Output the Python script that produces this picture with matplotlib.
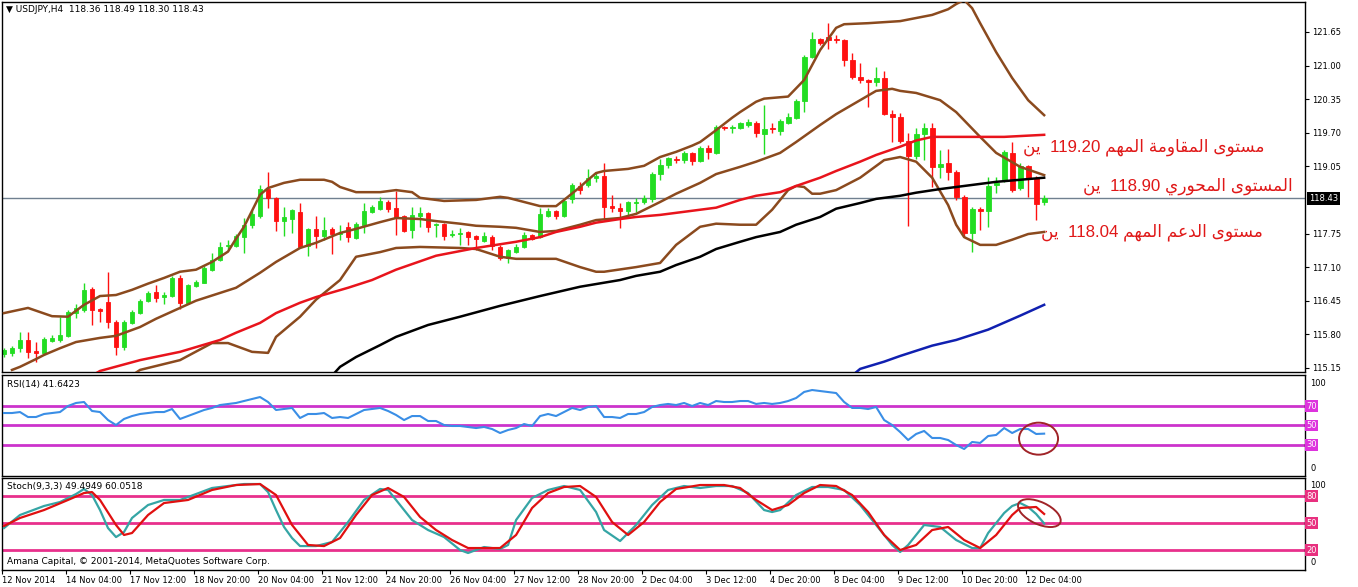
import numpy as np
import matplotlib
matplotlib.use("Agg")
import matplotlib.pyplot as plt
import matplotlib.transforms as mtransforms
from matplotlib.patches import Ellipse

# datos de velas H4 (indice 0 = 12 Nov 20:00)
opens = [115.42, 115.44, 115.54, 115.69, 115.48, 115.44, 115.67, 115.69, 115.77, 116.21,
         116.27, 116.68, 116.29, 116.43, 116.04, 115.56, 116.02, 116.21, 116.45, 116.62,
         116.52, 116.54, 116.89, 116.41, 116.74, 116.79, 117.05, 117.24, 117.51, 117.51,
         117.68, 117.92, 118.09, 118.61, 118.44, 117.99, 118.03, 118.17, 117.51, 117.84,
         117.70, 117.84, 117.74, 117.88, 117.66, 117.92, 118.17, 118.23, 118.36, 118.25,
         118.09, 117.82, 118.09, 118.15, 117.92, 117.94, 117.72, 117.74, 117.78, 117.70,
         117.61, 117.68, 117.49, 117.28, 117.39, 117.49, 117.72, 117.68, 118.09, 118.19,
         118.09, 118.42, 118.67, 118.69, 118.83, 118.86, 118.28, 118.25, 118.19, 118.34,
         118.36, 118.42, 118.90, 119.08, 119.19, 119.17, 119.31, 119.15, 119.41, 119.31,
         119.81, 119.79, 119.79, 119.85, 119.89, 119.68, 119.79, 119.73, 119.89, 119.99,
         120.32, 121.17, 121.52, 121.55, 121.52, 121.50, 121.11, 120.78, 120.72, 120.68,
         120.76, 120.06, 120.01, 119.54, 119.25, 119.68, 119.79, 119.04, 119.12, 118.94,
         118.46, 117.76, 118.23, 118.19, 118.69, 118.79, 119.31, 118.63, 119.06, 118.83,
         118.36]
highs = [115.54, 115.58, 115.85, 115.85, 115.65, 115.75, 115.79, 116.14, 116.27, 116.39,
         116.79, 116.72, 116.31, 117.01, 116.08, 116.08, 116.27, 116.49, 116.64, 116.76,
         116.62, 116.93, 116.95, 116.78, 116.85, 117.12, 117.38, 117.59, 117.63, 117.74,
         118.05, 118.21, 118.69, 118.94, 118.46, 118.26, 118.22, 118.34, 117.86, 118.09,
         118.07, 117.88, 117.92, 117.97, 117.97, 118.34, 118.30, 118.46, 118.40, 118.57,
         118.11, 118.26, 118.26, 118.17, 117.96, 117.96, 117.82, 117.86, 117.80, 117.72,
         117.78, 117.72, 117.53, 117.45, 117.55, 117.78, 117.74, 118.25, 118.25, 118.21,
         118.42, 118.73, 118.75, 119.00, 118.92, 119.12, 118.50, 118.34, 118.38, 118.44,
         118.50, 118.94, 119.19, 119.23, 119.25, 119.35, 119.33, 119.44, 119.46, 119.85,
         119.83, 119.85, 119.91, 119.97, 119.93, 120.24, 119.89, 119.97, 120.08, 120.36,
         121.21, 121.65, 121.54, 121.82, 121.59, 121.52, 121.24, 121.05, 120.74, 120.97,
         120.90, 120.14, 120.08, 119.70, 119.79, 119.89, 119.89, 119.37, 119.39, 118.98,
         118.50, 118.27, 118.27, 118.85, 118.85, 119.37, 119.52, 119.12, 119.08, 118.87,
         118.49]
lows = [115.36, 115.38, 115.46, 115.35, 115.27, 115.40, 115.65, 115.65, 115.75, 116.12,
        116.23, 115.98, 116.04, 115.92, 115.40, 115.50, 116.00, 116.19, 116.43, 116.43,
        116.39, 116.52, 116.29, 116.39, 116.72, 116.79, 117.03, 117.22, 117.43, 117.49,
        117.37, 117.86, 118.05, 118.25, 117.80, 117.70, 117.76, 117.47, 117.32, 117.47,
        117.63, 117.36, 117.63, 117.59, 117.64, 117.76, 118.15, 118.21, 118.17, 117.72,
        117.78, 117.66, 117.88, 117.78, 117.68, 117.63, 117.68, 117.53, 117.53, 117.43,
        117.59, 117.43, 117.24, 117.18, 117.38, 117.47, 117.63, 117.66, 118.07, 118.03,
        118.07, 118.34, 118.52, 118.65, 118.75, 118.01, 118.17, 117.86, 118.11, 118.17,
        118.32, 118.36, 118.79, 119.02, 119.12, 119.12, 119.08, 119.14, 119.19, 119.29,
        119.75, 119.70, 119.77, 119.81, 119.62, 119.29, 119.70, 119.66, 119.87, 119.97,
        120.10, 121.15, 121.40, 121.32, 121.44, 120.99, 120.74, 120.66, 120.20, 120.61,
        120.04, 119.52, 119.50, 117.90, 119.19, 119.17, 118.65, 118.83, 118.79, 118.40,
        117.68, 117.40, 117.82, 117.88, 118.54, 118.75, 118.56, 118.59, 118.46, 118.01,
        118.30]
closes = [115.50, 115.54, 115.69, 115.46, 115.44, 115.71, 115.73, 115.79, 116.23, 116.31,
          116.66, 116.27, 116.25, 116.04, 115.56, 116.04, 116.23, 116.45, 116.60, 116.50,
          116.56, 116.89, 116.41, 116.76, 116.82, 117.08, 117.24, 117.49, 117.53, 117.70,
          117.92, 118.13, 118.61, 118.44, 117.99, 118.07, 118.21, 117.49, 117.84, 117.70,
          117.82, 117.74, 117.76, 117.68, 117.94, 118.19, 118.27, 118.38, 118.23, 118.05,
          117.80, 118.11, 118.15, 117.88, 117.94, 117.70, 117.74, 117.76, 117.68, 117.65,
          117.70, 117.51, 117.28, 117.43, 117.49, 117.72, 117.65, 118.13, 118.19, 118.09,
          118.38, 118.69, 118.59, 118.83, 118.86, 118.27, 118.25, 118.19, 118.36, 118.36,
          118.44, 118.90, 119.08, 119.21, 119.17, 119.31, 119.15, 119.41, 119.33, 119.81,
          119.79, 119.81, 119.89, 119.91, 119.70, 119.77, 119.77, 119.93, 120.01, 120.32,
          121.17, 121.52, 121.44, 121.50, 121.50, 121.11, 120.78, 120.72, 120.68, 120.76,
          120.06, 120.01, 119.54, 119.25, 119.68, 119.79, 119.04, 119.10, 118.94, 118.46,
          117.76, 118.23, 118.19, 118.67, 118.73, 119.33, 118.59, 119.06, 118.83, 118.32,
          118.43]

# bandas de bollinger (indice, valor)
bb_up_x = [0, 3, 6, 8, 10, 12, 14, 16, 18, 20, 22, 24, 26, 28, 29, 30, 31, 32, 33, 35, 37, 40, 41, 42,
           44, 47, 49, 51, 52, 55, 59, 62, 63, 65, 67, 69, 70, 72, 73, 74, 75, 78, 80, 82, 84, 86, 87,
           89, 91, 92, 94, 95, 98, 100, 102, 104, 105, 108, 112, 116, 118, 119, 120, 121, 122, 124,
           126, 128, 130]
bb_up_y = [116.21, 116.31, 116.15, 116.14, 116.37, 116.54, 116.56, 116.66, 116.78, 116.89, 117.01,
           117.05, 117.20, 117.40, 117.65, 117.88, 118.19, 118.50, 118.63, 118.73, 118.79, 118.79,
           118.75, 118.65, 118.55, 118.55, 118.59, 118.55, 118.44, 118.38, 118.40, 118.46, 118.44,
           118.36, 118.28, 118.28, 118.40, 118.65, 118.79, 118.92, 118.96, 119.00, 119.06, 119.23,
           119.33, 119.45, 119.52, 119.75, 119.99, 120.10, 120.30, 120.36, 120.40, 120.72, 121.30,
           121.73, 121.80, 121.82, 121.86, 121.98, 122.09, 122.19, 122.27, 122.11, 121.82, 121.26,
           120.76, 120.33, 120.04]
bb_mid_x = [1, 2, 4, 5, 7, 9, 12, 14, 17, 19, 22, 24, 27, 29, 32, 34, 37, 39, 42, 44, 47, 49, 52,
            54, 57, 59, 62, 64, 67, 69, 72, 74, 77, 79, 82, 84, 87, 89, 92, 94, 97, 99, 102, 104,
            107, 109, 111, 112, 114, 117, 119, 122, 124, 127, 130]
bb_mid_y = [115.11, 115.17, 115.32, 115.40, 115.53, 115.65, 115.73, 115.77, 115.94, 116.10, 116.31,
            116.45, 116.60, 116.70, 116.99, 117.20, 117.47, 117.57, 117.76, 117.84, 117.97, 118.05,
            118.03, 117.99, 117.94, 117.90, 117.88, 117.86, 117.78, 117.80, 117.92, 118.01, 118.05,
            118.13, 118.36, 118.52, 118.73, 118.90, 119.04, 119.14, 119.31, 119.52, 119.85, 120.06,
            120.33, 120.51, 120.55, 120.51, 120.47, 120.33, 120.10, 119.62, 119.31, 119.04, 118.88]
bb_low_x = [15, 17, 22, 26, 28, 31, 33, 34, 37, 39, 42, 44, 47, 49, 52, 57, 59, 62, 64, 69, 72, 74,
            75, 79, 82, 84, 87, 89, 92, 94, 96, 98, 99, 100, 101, 102, 104, 107, 110, 112, 114, 116,
            118, 119, 120, 122, 124, 126, 128, 130]
bb_low_y = [114.90, 115.11, 115.30, 115.63, 115.63, 115.46, 115.44, 115.75, 116.14, 116.47, 116.85,
            117.30, 117.39, 117.47, 117.49, 117.47, 117.45, 117.30, 117.26, 117.26, 117.10, 117.01,
            117.01, 117.10, 117.18, 117.53, 117.88, 117.94, 117.92, 117.92, 118.21, 118.59, 118.67,
            118.65, 118.52, 118.52, 118.59, 118.83, 119.17, 119.23, 119.14, 118.83, 118.30, 117.92,
            117.68, 117.53, 117.53, 117.63, 117.74, 117.78]

# medias moviles
ma_roja_x = [11, 12, 17, 22, 27, 29, 32, 34, 37, 39, 43, 46, 49, 54, 59, 64, 67, 69, 72, 74, 77, 79,
             82, 84, 87, 89, 92, 94, 97, 99, 102, 104, 107, 109, 112, 114, 116, 120, 125, 130]
ma_roja_y = [115.00, 115.09, 115.30, 115.46, 115.69, 115.83, 116.02, 116.21, 116.41, 116.52, 116.70,
             116.85, 117.05, 117.32, 117.47, 117.59, 117.68, 117.78, 117.88, 117.96, 118.03, 118.07,
             118.11, 118.15, 118.21, 118.25, 118.40, 118.48, 118.55, 118.67, 118.83, 118.96, 119.14,
             119.27, 119.43, 119.55, 119.62, 119.62, 119.62, 119.66]
ma_negra_x = [41, 42, 44, 47, 49, 53, 57, 62, 67, 72, 77, 79, 82, 84, 87, 89, 92, 94, 97, 99, 102,
              104, 107, 109, 112, 114, 117, 119, 122, 124, 127, 130]
ma_negra_y = [115.00, 115.17, 115.36, 115.59, 115.75, 115.98, 116.14, 116.35, 116.54, 116.72, 116.85,
              116.93, 117.01, 117.14, 117.30, 117.45, 117.59, 117.68, 117.78, 117.92, 118.07, 118.23,
              118.34, 118.42, 118.48, 118.54, 118.61, 118.65, 118.71, 118.75, 118.79, 118.83]
ma_azul_x = [106, 107, 110, 112, 116, 119, 123, 127, 130]
ma_azul_y = [115.00, 115.13, 115.27, 115.38, 115.58, 115.69, 115.89, 116.16, 116.37]

# RSI(14)
rsi = [62.8, 62.8, 63.8, 58.7, 58.7, 61.8, 62.8, 63.8, 70.0, 73.1,
       74.1, 64.9, 63.8, 55.6, 50.5, 56.7, 59.7, 61.8, 62.8, 63.8,
       63.8, 66.9, 56.7, 59.7, 62.8, 65.9, 68.0, 71.0, 72.1, 73.1,
       75.1, 77.2, 79.2, 74.1, 65.9, 66.9, 68.0, 57.7, 61.8, 61.8,
       62.8, 57.7, 58.7, 57.7, 61.8, 65.9, 66.9, 68.0, 64.9, 60.8,
       55.6, 59.7, 59.7, 54.6, 54.6, 50.5, 49.5, 49.5, 48.5, 47.4,
       48.5, 46.4, 42.3, 45.4, 47.4, 51.5, 49.5, 59.7, 61.8, 59.7,
       63.8, 68.0, 65.9, 69.0, 70.0, 58.7, 58.7, 57.7, 61.8, 61.8,
       63.8, 69.0, 71.0, 72.1, 71.0, 73.1, 70.0, 73.1, 71.0, 75.1,
       74.1, 74.1, 75.1, 75.1, 72.1, 73.1, 72.1, 73.1, 75.1, 78.2,
       84.4, 86.4, 85.4, 84.4, 83.3, 74.1, 68.0, 68.0, 66.9, 69.0,
       55.6, 50.5, 43.3, 35.1, 41.3, 44.4, 37.2, 37.2, 35.1, 30.0,
       25.9, 33.1, 32.1, 39.2, 40.3, 47.4, 42.3, 46.4, 46.4, 41.3,
       41.64]

# estocastico (9,3,3)
k_x = [0, 2, 5, 7, 9, 10, 11, 12, 13, 14, 15, 16, 18, 20, 22, 24, 26, 28, 30, 32, 33, 34, 35, 36,
       37, 39, 41, 43, 45, 47, 48, 49, 51, 53, 55, 57, 58, 60, 62, 63, 64, 66, 68, 70, 72, 74, 75,
       77, 79, 81, 83, 85, 87, 89, 91, 93, 95, 96, 97, 99, 101, 103, 105, 107, 109, 111, 112, 113,
       115, 117, 119, 121, 122, 123, 125, 126, 127, 128, 129, 130]
k_y = [44.4, 58.9, 68.9, 73.3, 82.2, 87.8, 81.1, 64.4, 44.4, 34.4, 40.0, 55.6, 70.0, 75.6, 75.6,
       82.2, 88.9, 91.1, 93.3, 93.3, 84.4, 64.4, 45.6, 33.3, 24.4, 24.4, 28.9, 51.1, 75.6, 87.8,
       86.7, 75.6, 53.3, 42.2, 34.4, 20.0, 16.7, 23.3, 21.1, 25.6, 53.3, 77.8, 86.7, 91.1, 86.7,
       62.2, 42.2, 30.0, 47.8, 70.0, 86.7, 91.1, 88.9, 91.1, 91.1, 83.3, 64.4, 62.2, 64.4, 81.1,
       90.0, 90.0, 86.7, 70.0, 47.8, 25.6, 17.8, 25.6, 47.8, 45.6, 31.1, 22.2, 22.2, 38.9, 61.1,
       68.9, 72.2, 67.8, 60.0, 49.49]
d_x = [0, 2, 5, 8, 10, 11, 12, 14, 15, 16, 18, 20, 23, 26, 29, 32, 34, 36, 38, 40, 42, 44, 46, 48,
       50, 52, 54, 56, 58, 60, 62, 64, 66, 68, 70, 72, 74, 76, 78, 80, 82, 84, 87, 90, 92, 94, 96,
       98, 100, 102, 104, 106, 108, 110, 112, 114, 116, 118, 120, 122, 124, 126, 127, 129, 130]
d_y = [46.7, 55.6, 64.4, 75.6, 83.3, 84.4, 75.6, 47.8, 36.7, 38.9, 58.9, 72.2, 75.6, 86.7, 92.2,
       93.3, 81.1, 47.8, 25.6, 24.4, 33.3, 58.9, 81.1, 88.9, 78.9, 56.7, 42.2, 31.1, 22.2, 22.2,
       22.2, 36.7, 66.7, 83.3, 90.0, 91.1, 78.9, 51.1, 36.7, 51.1, 73.3, 87.8, 92.2, 92.2, 88.9,
       75.6, 64.4, 70.0, 83.3, 92.2, 91.1, 81.1, 62.2, 36.7, 20.0, 25.6, 42.2, 45.6, 31.1, 22.2,
       36.7, 58.9, 66.7, 67.8, 60.05]

etiquetas_x = ["12 Nov 2014", "14 Nov 04:00", "17 Nov 12:00", "18 Nov 20:00", "20 Nov 04:00",
               "21 Nov 12:00", "24 Nov 20:00", "26 Nov 04:00", "27 Nov 12:00", "28 Nov 20:00",
               "2 Dec 04:00", "3 Dec 12:00", "4 Dec 20:00", "8 Dec 04:00", "9 Dec 12:00",
               "10 Dec 20:00", "12 Dec 04:00"]
precios_eje = [115.15, 115.80, 116.45, 117.10, 117.75, 119.05, 119.70, 120.35, 121.00, 121.65]
precio_actual = 118.43

textos = ["مستوى المقاومة المهم 119.20 ين",
          "المستوى المحوري 118.90 ين",
          "مستوى الدعم المهم 118.04 ين"]
textos_pos = [(157.6, 119.42), (161.1, 118.66), (157.3, 117.78)]

# formas contextuales arabes (aislada, final, inicial, media)
FORMAS = {
    "ا": ("\uFE8D", "\uFE8E", None, None),
    "ة": ("\uFE93", "\uFE94", None, None),
    "ت": ("\uFE95", "\uFE96", "\uFE97", "\uFE98"),
    "ح": ("\uFEA1", "\uFEA2", "\uFEA3", "\uFEA4"),
    "د": ("\uFEA9", "\uFEAA", None, None),
    "ر": ("\uFEAD", "\uFEAE", None, None),
    "س": ("\uFEB1", "\uFEB2", "\uFEB3", "\uFEB4"),
    "ع": ("\uFEC9", "\uFECA", "\uFECB", "\uFECC"),
    "ق": ("\uFED5", "\uFED6", "\uFED7", "\uFED8"),
    "ل": ("\uFEDD", "\uFEDE", "\uFEDF", "\uFEE0"),
    "م": ("\uFEE1", "\uFEE2", "\uFEE3", "\uFEE4"),
    "ن": ("\uFEE5", "\uFEE6", "\uFEE7", "\uFEE8"),
    "ه": ("\uFEE9", "\uFEEA", "\uFEEB", "\uFEEC"),
    "و": ("\uFEED", "\uFEEE", None, None),
    "ى": ("\uFEEF", "\uFEF0", None, None),
    "ي": ("\uFEF1", "\uFEF2", "\uFEF3", "\uFEF4"),
}


def forma_palabra(w):
    out = []
    for i, ch in enumerate(w):
        f = FORMAS.get(ch)
        if f is None:
            out.append(ch)
            continue
        prev = w[i - 1] if i > 0 else None
        nxt = w[i + 1] if i + 1 < len(w) else None
        une_prev = prev in FORMAS and FORMAS[prev][2] is not None
        une_next = nxt in FORMAS and f[2] is not None
        if une_prev and une_next:
            out.append(f[3])
        elif une_prev:
            out.append(f[1])
        elif une_next:
            out.append(f[2])
        else:
            out.append(f[0])
    return "".join(reversed(out))


def visual(s):
    res = []
    for w in s.split(" "):
        if any("\u0600" <= c <= "\u06FF" for c in w):
            res.append(forma_palabra(w))
        else:
            # numero: un poco mas de aire a la izquierda (antes de "ين")
            res.append(" " + w)
    return " ".join(reversed(res))


W, H = 1358, 587
fig = plt.figure(figsize=(W / 100, H / 100), dpi=100)
fig.patch.set_facecolor("white")


def ejes(x0, y0, x1, y1):
    return fig.add_axes([x0 / W, 1 - y1 / H, (x1 - x0) / W, (y1 - y0) / H])


ax = ejes(2, 2, 1305, 372)
ax_rsi = ejes(2, 375, 1305, 476)
ax_st = ejes(2, 478, 1305, 570)

for a in (ax, ax_rsi, ax_st):
    a.set_xlim(-0.25, 162.6)
    for s in a.spines.values():
        s.set_color("black")
        s.set_linewidth(1)

#velas
o = np.array(opens)
h = np.array(highs)
l = np.array(lows)
c = np.array(closes)
x = np.arange(len(c))
col = np.where(c >= o, "#22dd22", "#ff1010")
ax.axhline(precio_actual, color="#708090", linewidth=1, zorder=1)
ax.vlines(x, l, h, colors=col, linewidth=1, zorder=2)
ax.bar(x, np.maximum(np.abs(c - o), 0.004), bottom=np.minimum(o, c), width=0.6,
       color=col, edgecolor=col, linewidth=0.6, zorder=2)

#indicadores
marron = "#8b4a1e"
ax.plot(bb_up_x, bb_up_y, color=marron, linewidth=1.8, zorder=3)
ax.plot(bb_mid_x, bb_mid_y, color=marron, linewidth=1.8, zorder=3)
ax.plot(bb_low_x, bb_low_y, color=marron, linewidth=1.8, zorder=3)
ax.plot(ma_roja_x, ma_roja_y, color="#e8141c", linewidth=1.8, zorder=3)
ax.plot(ma_negra_x, ma_negra_y, color="black", linewidth=1.8, zorder=3)
ax.plot(ma_azul_x, ma_azul_y, color="#1020b0", linewidth=1.8, zorder=3)

ax.set_ylim(115.07, 122.23)
ax.set_xticks([])
ax.yaxis.tick_right()
ax.set_yticks(precios_eje)
ax.set_yticklabels([f"{p:.2f}" for p in precios_eje])
ax.tick_params(axis="y", labelsize=6, length=3, width=0.8, pad=2)
trans = mtransforms.blended_transform_factory(ax.transAxes, ax.transData)
ax.text(1.003, precio_actual, f"{precio_actual:.2f}", transform=trans, ha="left", va="center",
        fontsize=6, color="white", bbox=dict(facecolor="black", edgecolor="none", pad=1.2))

for t, (tx, ty) in zip(textos, textos_pos):
    ax.text(tx, ty, visual(t), ha="right", va="center", fontsize=12.2, color="#e01818",
            family=["Liberation Sans", "DejaVu Sans"], zorder=5)

#RSI
ax_rsi.set_ylim(-1.8, 101.8)
for nivel in (70, 50, 30):
    ax_rsi.axhline(nivel, color="#cc33cc", linewidth=2, zorder=1)
ax_rsi.plot(x, rsi, color="#3a8ee6", linewidth=1.5, zorder=3)
ax_rsi.set_xticks([])
ax_rsi.set_yticks([])
tr = mtransforms.blended_transform_factory(ax_rsi.transAxes, ax_rsi.transData)
for nivel in (70, 50, 30):
    ax_rsi.text(1.001, nivel, str(nivel), transform=tr, ha="left", va="center", fontsize=6,
                color="white", bbox=dict(facecolor="#dd33dd", edgecolor="none", pad=1))
ax_rsi.text(1.004, 93, "100", transform=tr, ha="left", va="center", fontsize=6)
ax_rsi.text(1.004, 6, "0", transform=tr, ha="left", va="center", fontsize=6)

#estocastico
ax_st.set_ylim(-2.2, 100)
for nivel in (80, 50, 20):
    ax_st.axhline(nivel, color="#e8308c", linewidth=2, zorder=1)
ax_st.plot(k_x, k_y, color="#35a5a5", linewidth=1.6, zorder=3)
ax_st.plot(d_x, d_y, color="#e01010", linewidth=1.6, zorder=4)
ax_st.set_yticks([])
ts = mtransforms.blended_transform_factory(ax_st.transAxes, ax_st.transData)
for nivel in (80, 50, 20):
    ax_st.text(1.001, nivel, str(nivel), transform=ts, ha="left", va="center", fontsize=6,
               color="white", bbox=dict(facecolor="#e8307f", edgecolor="none", pad=1))
ax_st.text(1.004, 92, "100", transform=ts, ha="left", va="center", fontsize=6)
ax_st.text(1.004, 6, "0", transform=ts, ha="left", va="center", fontsize=6)

ax_st.set_xticks([8 * k - 0.25 for k in range(len(etiquetas_x))])
ax_st.set_xticklabels(etiquetas_x)
ax_st.tick_params(axis="x", labelsize=6, length=3, width=0.8, pad=1)
for lbl in ax_st.get_xticklabels():
    lbl.set_horizontalalignment("left")

#elipses de anotacion (tamano en puntos)
esc = mtransforms.Affine2D().scale(fig.dpi / 72)
e1 = Ellipse((0, 0), 39 * 0.72, 32 * 0.72, angle=0, fill=False, edgecolor="#a02428", linewidth=1.4,
             transform=esc + mtransforms.ScaledTranslation(129.3, 36.5, ax_rsi.transData), zorder=6)
ax_rsi.add_patch(e1)
e2 = Ellipse((0, 0), 46 * 0.72, 22 * 0.72, angle=-25, fill=False, edgecolor="#a02428", linewidth=1.4,
             transform=esc + mtransforms.ScaledTranslation(129.4, 61.0, ax_st.transData), zorder=6)
ax_st.add_patch(e2)

#textos de cabecera
fig.text(6 / W, 1 - 9 / H, "\u25bc USDJPY,H4  118.36 118.49 118.30 118.43", fontsize=6.5, va="center")
fig.text(7 / W, 1 - 384 / H, "RSI(14) 41.6423", fontsize=6.5, va="center")
fig.text(7 / W, 1 - 487 / H, "Stoch(9,3,3) 49.4949 60.0518", fontsize=6.5, va="center")
fig.text(7 / W, 1 - 562 / H, "Amana Capital, \u00a9 2001-2014, MetaQuotes Software Corp.", fontsize=6.5,
         va="center")

fig.savefig("out.png", dpi=100)
